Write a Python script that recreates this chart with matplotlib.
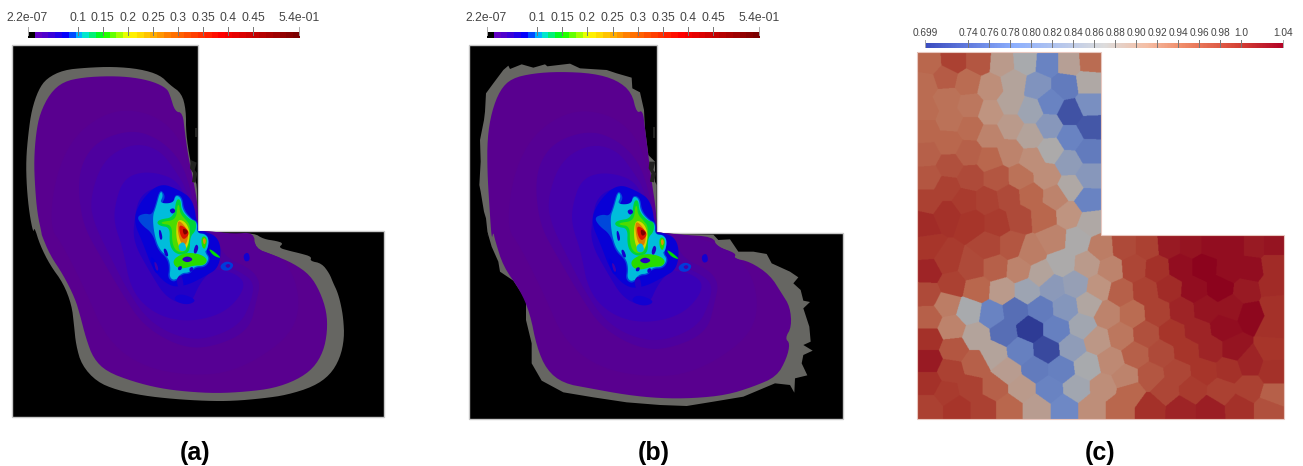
import numpy as np
import matplotlib
matplotlib.use("Agg")
import matplotlib.pyplot as plt
from matplotlib.patches import Polygon
from matplotlib.colors import LinearSegmentedColormap, Normalize, to_rgb

plt.rcParams['font.family'] = ['Liberation Sans', 'DejaVu Sans']

# ---- colour bars -----------------------------------------------------
stress_min, stress_max = 2.2e-07, 0.54
stress_ticks = [0.1, 0.15, 0.2, 0.25, 0.3, 0.35, 0.4, 0.45]
stress_tick_labels = ['0.1', '0.15', '0.2', '0.25', '0.3', '0.35', '0.4', '0.45']
stress_end_labels = ['2.2e-07', '5.4e-01']
density_min, density_max = 0.699, 1.04
density_ticks = [0.74, 0.76, 0.78, 0.80, 0.82, 0.84, 0.86, 0.88, 0.90, 0.92, 0.94, 0.96, 0.98, 1.0]
density_tick_labels = ['0.74', '0.76', '0.78', '0.80', '0.82', '0.84', '0.86', '0.88', '0.90',
                       '0.92', '0.94', '0.96', '0.98', '1.0']
density_end_labels = ['0.699', '1.04']
captions = ['(a)', '(b)', '(c)']

# ---- outlines of panel (a) -------------------------------------------
gray_a_top = [(100,700),(88,640),(80,560),(78,480),(85,400),(95,330),(115,270),(140,235),(190,210),
              (260,203),(340,200),(420,207),(480,225),(510,255),(545,280),(558,330),(558,400),(570,480),
              (585,540),(592,560)]
gray_a_low = [(592,60),(640,22),(700,30),(762,24),(790,42),(830,48),(850,55),(835,68),(870,78),(900,85),
              (935,95),(930,108),(965,115),(988,145),(1000,175),(1012,200),(1022,235),(1030,280),(1033,340),
              (1020,400),(990,450),(940,485),(860,510),(790,520),(700,528),(620,528),(520,522),(430,512),
              (350,495),(290,470),(245,420),(228,360),(222,300),(215,240),(190,175),(150,120),(120,60),(103,5)]
purple_a_top = [(125,700),(112,640),(105,560),(102,480),(108,400),(120,340),(150,280),(190,245),(250,232),
                (330,228),(400,232),(460,245),(500,265),(510,285),(525,335),(548,338),(555,400),(565,470),
                (580,540),(594,620),(594,692),(594,692),(594,692)]
purple_a_low = [(594,18),(594,18),(594,18),(640,20),(700,26),(762,22),(765,70),(820,90),(880,115),(930,150),
                (960,200),(980,260),(982,320),(970,380),(940,430),(890,465),(820,490),(740,500),(650,505),
                (560,500),(480,490),(400,470),(320,440),(280,400),(258,340),(240,270),(225,220),(190,150),
                (150,90),(125,30)]
specks_a = [[(572,480),(590,488),(584,510),(592,520),(586,548),(576,546),(580,520),(570,505)],
            [(584,385),(590,385),(590,412),(584,412)]]

# ---- outlines of panel (b) ---------------------------------------------
gray_b_top = [(85,705),(78,640),(72,620),(62,560),(58,540),(62,470),(60,405),(72,345),(75,320),(78,265),
              (100,235),(130,195),(145,182),(150,192),(185,178),(220,188),(255,178),(262,184),(330,176),
              (360,190),(440,195),(470,205),(515,218),(517,250),(540,262),(552,315),(555,370),(565,450),
              (585,470),(585,530),(590,540)]
gray_b_low = [(590,8),(660,12),(760,14),(775,30),(810,28),(835,65),(880,65),(920,72),(935,100),(990,125),
              (1015,142),(1000,160),(1022,180),(1030,212),(1050,216),(1030,235),(1048,290),(1052,335),
              (1030,345),(1058,362),(1030,375),(1025,400),(1042,436),(1005,445),(1003,488),(990,465),
              (945,460),(850,500),(760,515),(680,528),(600,525),(500,517),(400,502),(310,487),(245,452),
              (215,400),(215,340),(198,270),(198,210),(160,152),(120,125),(115,95),(95,50),(82,5)]
purple_b_top = [(95,705),(88,600),(82,500),(82,400),(95,320),(120,255),(155,220),(220,205),(300,200),(400,205),
                (470,225),(515,262),(530,325),(548,315),(555,370),(565,450),(575,530),(589,620),(589,682),(589,682),(589,682)]
purple_b_low = [(589,7),(589,7),(660,14),(760,20),(770,50),(830,70),(820,85),(870,95),(930,135),(965,190),(990,230),(995,290),
                (975,325),(990,340),(980,385),(950,440),(880,470),(800,495),(700,505),(600,505),(500,495),
                (390,475),(310,460),(260,420),(230,350),(210,250),(180,180),(130,110),(105,30),(100,5)]
specks_b = [[(568,470),(586,470),(580,495),(588,505),(582,532),(570,530),(574,505),(566,490)],
            [(580,365),(586,365),(586,400),(580,400)]]

# ---- field levels: each is (stress value, outline). Upper part uses crop (0,0), lower crop (0,225) ----
levels_body = [
 (0.005,[(150,680),(170,520),(230,400),(340,330),(450,340),(530,400),(570,500),(596,690)],
        [(660,20),(800,60),(880,140),(900,260),(850,350),(700,440),(560,450),(420,420),(320,340),(260,200),(190,60)]),
 (0.014,[(235,560),(250,480),(300,420),(400,390),(480,420),(540,480),(570,560),(596,690)],
        [(640,20),(650,50),(680,100),(750,130),(780,170),(770,220),(745,320),(620,370),(530,360),(430,300),
         (370,210),(300,90),(250,0)]),
 (0.024,[(270,600),(310,480),(400,430),(480,450),(530,520),(555,560),(596,690)],
        [(625,20),(630,50),(660,115),(720,140),(760,170),(755,220),(720,300),(610,345),(520,330),(440,280),
         (380,190),(330,90),(285,0)]),
 (0.036,[(345,620),(370,540),(430,515),(510,530),(550,570),(590,690)],
        [(600,70),(620,130),(700,140),(740,180),(680,260),(570,290),(470,270),(395,200),(370,70),(345,0)]),
 (0.050,[(405,650),(420,590),(470,560),(530,570),(560,620),(590,690)],
        [(610,80),(640,130),(600,170),(570,240),(500,220),(450,140),(400,50)]),
]

# hot spot outlines, crop origin (110,170)
levels_hot = [
 (0.066,[(95,90),(150,40),(205,60),(250,90),(262,180),(330,200),(330,290),(280,320),(230,345),(180,350),(130,300),(100,220),(70,150)]),
 (0.082,[(150,55),(168,80),(152,105),(190,102),(195,72),(217,80),(222,120),(247,148),(264,155),(262,192),(290,190),
         (297,222),(287,245),(302,265),(287,292),(255,292),(240,312),(215,312),(195,338),(173,325),(178,295),(172,265),
         (143,240),(128,190),(95,165),(80,140),(105,130),(125,135),(135,110)]),
 (0.100,[(152,60),(160,78),(148,100),(190,100),(197,75),(214,84),(218,122),(245,150),(262,158),(260,190),(288,192),
         (292,222),(283,245),(298,265),(283,288),(255,288),(238,308),(215,308),(195,332),(178,322),(182,292),(175,262),
         (146,236),(132,188),(128,138),(138,112)]),
 (0.13,[(198,88),(212,88),(214,122),(240,150),(258,152),(258,182),(240,200),(240,245),(215,256),(190,246),(178,220),
        (180,172),(150,168),(140,158),(150,148),(192,142)]),
 (0.16,[(202,105),(208,105),(210,130),(228,150),(240,165),(240,200),(232,240),(212,248),(195,240),(186,215),
        (186,165),(155,162),(155,155),(198,150)]),
 (0.20,[(202,148),(228,158),(240,190),(232,232),(212,242),(198,200)]),
 (0.26,[(205,148),(236,184),(228,226),(212,218),(203,180)]),
 (0.36,[(208,162),(240,186),(222,210),(210,192)]),
 (0.50,[(218,174),(236,185),(222,196)]),
 (0.100,[(268,200),(280,192),(297,205),(290,245),(272,238)]),
 (0.15,[(274,205),(283,198),(292,210),(285,238),(276,230)]),
 (0.24,[(278,208),(285,204),(288,215),(282,225)]),
 (0.15,[(190,268),(225,248),(268,252),(292,268),(282,286),(250,286),(220,296),(195,290)]),
 (0.100,[(205,225),(222,215),(230,240),(210,244)]),
 (0.045,[(214,268),(232,258),(250,268),(232,278)]),
 (0.06,[(178,120),(190,114),(197,124),(186,132)]),
 (0.06,[(146,182),(152,180),(158,205),(150,210)]),
 (0.06,[(160,238),(168,236),(176,258),(166,258)]),
 (0.06,[(238,295),(248,290),(250,302),(240,306)]),
 (0.05,[(250,245),(258,222),(266,232),(258,252)]),
 (0.06,[(205,290),(216,288),(214,300),(204,300)]),
 (0.10,[(195,300),(204,298),(208,320),(196,328),(185,312)]),
]
# small spots of darker blue or brighter cyan in the lower body, crop origin (0,225)
levels_spots = [
 (0.08,[(660,122),(680,108),(702,118),(690,136),(668,136)]),
 (0.03,[(675,122),(685,116),(692,122),(684,130)]),
 (0.06,[(730,90),(745,82),(750,105),(735,110)]),
 (0.07,[(450,95),(465,105),(480,140),(465,145)]),
 (0.03,[(462,110),(470,115),(476,135),(468,136)]),
 (0.05,[(530,160),(545,150),(552,190),(535,190)]),
 (0.06,[(540,205),(590,225),(560,240),(520,225)]),
 (0.14,[(626,72),(640,78),(665,100),(640,92)]),
]

# ---- cells of panel (c): crop x, crop y, relative density ------------------
cell_x_upper = [115,190,265,335,405,470,535,600, 105,165,232,300,370,440,525,595,
                105,170,240,300,360,420,480,540,595, 105,180,240,300,360,420,475,540,598,
                110,175,235,300,358,425,480,535,595, 115,178,240,320,390,468,540,595,
                115,170,225,290,355,420,495,592, 100,170,245,320,385,460,535,600]
cell_y_upper = [145,140,140,145,140,145,145,140, 210,190,205,220,205,215,215,205,
                285,255,275,295,265,290,265,295,270, 350,315,340,365,335,365,335,370,338,
                420,385,415,435,415,437,408,445,410, 490,455,490,490,488,485,520,485,
                560,520,560,560,550,545,550,558, 630,600,625,625,610,605,600,625]
cell_v_upper = [.95,.985,.965,.90,.865,.78,.89,.945, .945,.96,.945,.915,.885,.81,.77,.875,
                .945,.94,.935,.91,.885,.85,.78,.725,.80, .95,.94,.945,.925,.90,.885,.82,.78,.73,
                .955,.95,.955,.95,.925,.915,.87,.83,.77, .965,.97,.975,.965,.94,.915,.875,.82,
                .985,.985,.99,.985,.975,.95,.925,.78, 1.005,1.0,.995,.99,.975,.95,.91,.875]
cell_x_lower = [110,170,115,185,112,245,295,362,315,420,385,490,260,335,450,515,560,590,632,700,770,835,900,965,1030,1090,1150,
                660,730,800,870,940,1015,1080,1150, 410,485,555,625,690,765,835,910,988,1068,1145,
                170,237,303,375,450,525,595,650,725,800,875,945,1020,1080,1150,
                115,183,258,340,418,498,575,692,765,845,920,1000,1150,
                115,190,390,468,545,620,660,735,812,888,960,1030,1145,
                115,180,255,310,350,435,512,590,705,780,860,940,1015,1075,1148,
                115,170,240,312,395,477,558,638,718,825,905,992,1075,1148,
                115,200,280,355,438,522,605,685,780,870,960,1045,1135]
cell_y_lower = [55,95,125,165,195,115,50,50,115,70,120,30,180,185,135,100,35,105,55,50,50,45,45,45,45,45,45,
                120,115,120,115,115,120,120,110, 185,175,165,175,190,185,175,180,177,185,170,
                225,245,255,245,240,235,225,255,255,250,245,240,235,255,230,
                265,295,320,310,298,300,290,320,315,310,305,295,290,
                330,360,365,362,355,335,395,375,372,365,360,360,360,
                395,425,405,375,425,420,420,410,445,440,430,425,420,400,425,
                460,490,475,475,478,480,478,475,490,485,480,487,478,500,
                535,535,535,535,535,535,535,535,535,540,540,535,535]
cell_v_lower = [.995,.99,1.01,.985,.975,.975,.98,.965,.955,.93,.925,.925,.95,.90,.885,.87,.87,.90,.93,.975,.985,1.02,1.025,1.03,1.03,1.02,1.025,
                .925,.98,1.0,1.03,1.04,1.03,1.03,1.005, .85,.825,.84,.91,.955,.985,1.005,1.03,1.042,1.02,1.005,
                .93,.865,.78,.755,.77,.815,.88,.925,.945,.985,1.01,1.025,1.025,1.035,1.0,
                .955,.925,.885,.755,.70,.775,.855,.935,.97,.995,1.01,1.03,1.0,
                1.0,.965,.775,.715,.83,.905,.92,.955,.975,.995,1.01,1.025,.995,
                1.02,.985,.955,.885,.895,.77,.775,.865,.925,.965,.98,.995,1.0,1.01,1.0,
                1.0,.99,.985,.955,.90,.78,.855,.915,.95,.98,.99,.985,.985,.955,
                .985,.995,.985,.95,.895,.785,.915,.95,1.0,1.01,1.015,1.0,.97]


def crop(points, x0, y0):
    return [(x0 + x / 3, y0 + y / 3) for x, y in points]


def area(p):
    return 0.5 * abs(np.dot(p[:, 0], np.roll(p[:, 1], 1)) - np.dot(p[:, 1], np.roll(p[:, 0], 1)))


def smooth(points, rounds=2, keep_area=False):
    start = np.asarray(points, float)
    pts = start
    for _ in range(rounds):
        nxt = np.roll(pts, -1, axis=0)
        pts = np.column_stack([0.75 * pts + 0.25 * nxt, 0.25 * pts + 0.75 * nxt]).reshape(-1, 2)
    if keep_area:
        mid = pts.mean(axis=0)
        pts = mid + (pts - mid) * np.sqrt(area(start) / area(pts))
    return pts


fig = plt.figure(figsize=(13.03, 4.66), dpi=100)
ax = fig.add_axes([0, 0, 1, 1])

stress_colors = [(0.0, '#000000'), (0.0092, '#000000'), (0.0093, '#6a00c0'), (0.06, '#4a00d0'),
                 (0.13, '#0000ff'), (0.185, '#00e0ff'), (0.26, '#00ff00'), (0.36, '#ffff00'),
                 (0.50, '#ff8000'), (0.70, '#ff0000'), (1.0, '#700000')]
stress_cmap = LinearSegmentedColormap.from_list('stress', stress_colors, N=512)
stress_norm = Normalize(stress_min, stress_max)
body_cmap = LinearSegmentedColormap.from_list(
    'body', [(0.0, (0.35, 0.0, 0.56))] + [(t, tuple(0.86 * np.array(to_rgb(c)))) for t, c in stress_colors[3:]], N=512)

density_cmap = LinearSegmentedColormap.from_list(
    'density', [(0.0, '#3b4cc0'), (0.25, '#8db0fe'), (0.5, '#dddddd'), (0.62, '#f5bea5'),
                (0.72, '#f08c69'), (0.87, '#d74637'), (1.0, '#b40426')], N=256)
density_norm = Normalize(density_min, density_max)
cell_cmap = LinearSegmentedColormap.from_list(
    'cells', [tuple(0.78 * np.array(density_cmap(t)[:3])) for t in np.linspace(0, 1, 64)], N=256)


def colorbar(x0, x1, y0, y1, tick_top, tick_bottom, cmap, vmin, vmax, ticks, labels, ends, size, label_y, quant):
    t = np.linspace(0, 1, 600)
    if quant:
        t = np.where(t < 0.0093, t, np.maximum(np.floor(t * quant) / quant, 0.0093))
    ax.imshow(t[None, :], extent=(x0, x1, y1, y0), cmap=cmap, vmin=0, vmax=1, aspect='auto', zorder=2,
              interpolation='nearest')
    pos = lambda v: x0 + (v - vmin) / (vmax - vmin) * (x1 - x0)
    for v, lab in zip(ticks, labels):
        ax.plot([pos(v)] * 2, [tick_top, tick_bottom], color='#777777', lw=0.7, zorder=3)
        ax.text(pos(v), label_y, lab, ha='center', va='center', fontsize=size, color='#444444')
    for v, lab in zip([vmin, vmax], ends):
        ax.plot([pos(v)] * 2, [tick_top, tick_bottom], color='#aaaaaa', lw=0.7, zorder=3)
        ax.text(pos(v), label_y, lab, ha='center', va='center', fontsize=size, color='#444444')


def panel(left, right, top, notch_x, notch_y, bottom, gray, purple, specks, map_point, smooth_gray):
    ax.add_patch(Polygon([(left, top), (notch_x, top), (notch_x, notch_y), (right, notch_y), (right, bottom),
                          (left, bottom)], closed=True, fc='black', ec='#c8c8c8', lw=1.0, zorder=1))
    ax.add_patch(Polygon(map_point(smooth(gray, 2) if smooth_gray else np.array(gray)), closed=True,
                         fc='#666662', ec='none', zorder=2))
    body = Polygon(map_point(smooth(purple, 2)), closed=True, fc=body_cmap(0.0), ec='none', zorder=3)
    ax.add_patch(body)
    z = 4
    for v, up, low in levels_body:
        pts = crop(up, 0, 0) + crop(low, 0, 225)
        p = Polygon(map_point(smooth(pts, 3, True)), closed=True, fc=body_cmap(stress_norm(v)), ec='none', zorder=z)
        ax.add_patch(p)
        p.set_clip_path(body)
        z += 1
    for v, outline in levels_hot:
        p = Polygon(map_point(smooth(crop(outline, 110, 170), 3, True)), closed=True, fc=body_cmap(stress_norm(v)),
                    ec='none', zorder=z)
        ax.add_patch(p)
        p.set_clip_path(body)
        z += 1
    for v, outline in levels_spots:
        p = Polygon(map_point(smooth(crop(outline, 0, 225), 3, True)), closed=True, fc=body_cmap(stress_norm(v)),
                    ec='none', zorder=z)
        ax.add_patch(p)
        p.set_clip_path(body)
        z += 1
    for outline in specks:
        ax.add_patch(Polygon(outline, closed=True, fc='#222220', ec='none', zorder=z))


map_a = lambda pts: np.asarray(pts)
map_b = lambda pts: np.column_stack([469.3 + (np.asarray(pts)[:, 0] - 12.3) * 1.005,
                                     45.0 + (np.asarray(pts)[:, 1] - 44.5) * 1.003])

# panel (a)
colorbar(27.5, 298.7, 32, 38, 26.5, 35, stress_cmap, stress_min, stress_max, stress_ticks, stress_tick_labels,
         stress_end_labels, 8.7, 18, 40)
panel(12.3, 384, 44.5, 198, 231, 417, crop(gray_a_top, 0, 0) + crop(gray_a_low, 0, 225),
      crop(purple_a_top, 0, 0) + crop(purple_a_low, 0, 225),
      [crop(s, 0, 0) for s in specks_a], map_a, True)

# panel (b): its outlines are in picture coordinates of its own, so undo map_b for them
unmap_b = lambda pts: [((x - 469.3) / 1.005 + 12.3, (y - 45.0) / 1.003 + 44.5) for x, y in pts]
colorbar(486.5, 758.7, 32, 38, 26.5, 35, stress_cmap, stress_min, stress_max, stress_ticks, stress_tick_labels,
         stress_end_labels, 8.7, 18, 40)
panel(469.3, 843.3, 45, 656.5, 232.5, 419,
      unmap_b(crop(gray_b_top, 460, 5) + crop(gray_b_low, 460, 230)),
      unmap_b(crop(purple_b_top, 460, 5) + crop(purple_b_low, 460, 230)),
      [crop(s, 460, 5) for s in specks_b], map_b, False)

# panel (c)
colorbar(925.3, 1283.3, 44, 48.3, 40, 46.7, density_cmap, density_min, density_max, density_ticks,
         density_tick_labels, density_end_labels, 7.3, 33, 0)
left_c, right_c, top_c, notch_x_c, notch_y_c, bottom_c = 916.7, 1284, 51.7, 1100.7, 235.3, 419.3
seed_x = np.concatenate([890 + np.array(cell_x_upper) / 3, 890 + np.array(cell_x_lower) / 3])
seed_y = np.concatenate([15 + np.array(cell_y_upper) / 3, 230 + np.array(cell_y_lower) / 3])
seed_v = np.concatenate([cell_v_upper, cell_v_lower])
gx, gy = np.meshgrid(np.arange(left_c, right_c, 0.5) + 0.25, np.arange(top_c, bottom_c, 0.5) + 0.25)
nearest = np.argmin((gx[..., None] - seed_x) ** 2 + (gy[..., None] - seed_y) ** 2, axis=-1)
im = ax.imshow(seed_v[nearest], extent=(left_c, right_c, bottom_c, top_c), cmap=cell_cmap, norm=density_norm,
               aspect='auto', interpolation='antialiased', zorder=1)
outline_c = Polygon([(left_c, top_c), (notch_x_c, top_c), (notch_x_c, notch_y_c), (right_c, notch_y_c),
                     (right_c, bottom_c), (left_c, bottom_c)], closed=True, fc='none', ec='#e8c8c0', lw=0.8, zorder=2)
ax.add_patch(outline_c)
im.set_clip_path(outline_c)

for x, lab in zip([195, 654, 1100], captions):
    ax.text(x, 453, lab, ha='center', va='center', fontsize=18, fontweight='bold', color='black')

ax.set_xlim(0, 1303)
ax.set_ylim(466, 0)
ax.axis('off')
fig.savefig('out.png', dpi=100)
